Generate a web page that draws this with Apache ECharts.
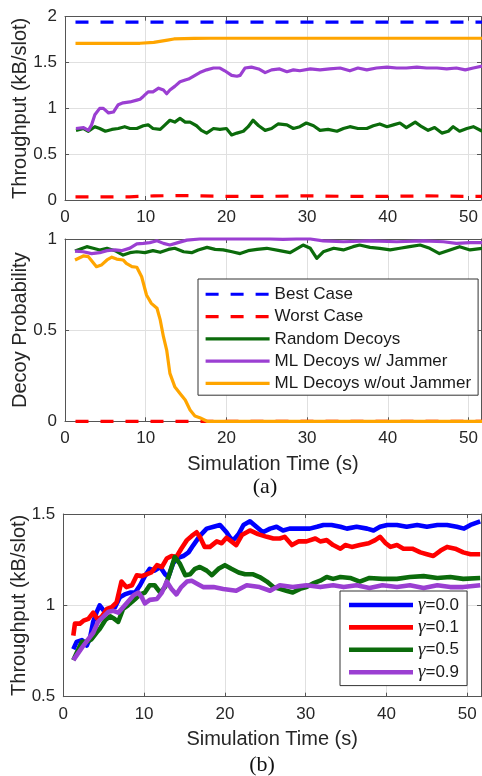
<!DOCTYPE html>
<html><head><meta charset="utf-8">
<script src="https://cdn.jsdelivr.net/npm/echarts@6/dist/echarts.min.js"></script>
<style>html,body{margin:0;padding:0;background:#fff}#c{width:482px;height:776px}</style>
</head><body><div id="c"></div>
<script>
// ---------- data (time s, value) ----------
const legendNamesA = ['Best Case','Worst Case','Random Decoys','ML Decoys w/ Jammer','ML Decoys w/out Jammer'];
const legendNamesB = ['γ=0.0','γ=0.1','γ=0.5','γ=0.9'];

// Panel (a) top: throughput
const bestThroughput = [[1.3,1.94],[51.7,1.94]];
const worstThroughput = [[1.3,0.035],[8,0.035],[11,0.045],[14,0.048],[17,0.045],[20,0.04],[25,0.04],[30,0.045],[35,0.04],[40,0.04],[45,0.045],[50,0.04],[51.7,0.04]];
const randomThroughput = [[1.36,0.76],[2.3,0.78],[2.9,0.75],[3.7,0.80],[4.3,0.78],[5.0,0.75],[5.8,0.77],[6.6,0.78],[7.4,0.80],[8.05,0.78],[8.9,0.78],[9.7,0.81],[10.3,0.82],[10.9,0.78],[11.8,0.77],[12.4,0.82],[13.0,0.87],[13.6,0.85],[14.25,0.89],[14.9,0.85],[15.5,0.85],[16.3,0.81],[16.9,0.76],[17.55,0.73],[18.4,0.78],[19.2,0.77],[20.0,0.78],[20.65,0.71],[21.3,0.73],[22.1,0.75],[22.7,0.80],[23.3,0.87],[24.0,0.81],[24.8,0.76],[25.6,0.78],[26.4,0.83],[27.5,0.82],[28.3,0.78],[29.1,0.80],[29.9,0.84],[30.8,0.81],[31.6,0.76],[32.6,0.77],[33.7,0.75],[34.5,0.78],[35.3,0.80],[36.3,0.78],[37.4,0.78],[38.2,0.81],[39.0,0.83],[39.9,0.80],[40.7,0.82],[41.5,0.84],[42.3,0.79],[43.4,0.85],[44.2,0.80],[45.0,0.76],[45.8,0.79],[46.7,0.73],[47.5,0.75],[48.1,0.80],[48.9,0.75],[49.8,0.78],[50.6,0.80],[51.7,0.75]];
const mlJamThroughput = [[1.36,0.78],[2.3,0.79],[2.9,0.76],[3.3,0.82],[3.7,0.93],[4.3,1.0],[4.75,1.0],[5.4,0.95],[6.0,0.96],[6.6,1.04],[7.2,1.06],[8.05,1.07],[8.9,1.09],[9.3,1.10],[9.7,1.13],[10.3,1.18],[10.9,1.18],[11.6,1.22],[12.2,1.20],[12.6,1.16],[13.0,1.20],[13.6,1.24],[14.25,1.29],[14.9,1.31],[15.3,1.32],[15.9,1.35],[16.7,1.39],[17.55,1.42],[18.4,1.44],[19.2,1.44],[19.8,1.41],[20.65,1.36],[21.3,1.35],[21.7,1.36],[22.3,1.44],[23.1,1.45],[24.0,1.43],[24.8,1.39],[25.6,1.42],[26.6,1.43],[27.5,1.40],[28.3,1.42],[29.1,1.41],[30.4,1.43],[31.6,1.42],[32.8,1.43],[34.1,1.44],[35.3,1.41],[36.3,1.44],[37.4,1.42],[38.6,1.44],[39.9,1.45],[41.1,1.44],[42.3,1.44],[43.6,1.45],[44.8,1.44],[46.1,1.44],[47.3,1.43],[48.5,1.44],[49.6,1.42],[50.6,1.44],[51.7,1.46]];
const mlNoJamThroughput = [[1.3,1.71],[5,1.71],[9.3,1.71],[11,1.72],[12.7,1.745],[13.5,1.757],[16,1.763],[18,1.765],[51.7,1.765]];

// Panel (a) middle: decoy probability
const worstDecoy = [[1.3,0],[51.7,0]];
const randomDecoy = [[1.24,0.934],[2.7,0.958],[3.5,0.949],[4.3,0.94],[5.2,0.949],[6.2,0.936],[7.2,0.912],[8.05,0.925],[8.9,0.93],[9.9,0.925],[10.9,0.936],[11.8,0.927],[12.8,0.943],[13.6,0.949],[14.7,0.93],[15.7,0.925],[16.5,0.94],[17.6,0.954],[18.6,0.943],[19.6,0.94],[20.7,0.93],[21.7,0.92],[22.7,0.936],[23.8,0.943],[25.0,0.949],[26.6,0.936],[27.9,0.925],[29.5,0.967],[30.4,0.949],[31.2,0.894],[32.0,0.93],[33.3,0.949],[34.5,0.94],[35.7,0.958],[36.5,0.967],[37.8,0.954],[39.0,0.949],[40.3,0.94],[41.5,0.949],[42.7,0.958],[44.0,0.967],[45.2,0.949],[46.4,0.92],[47.7,0.94],[48.9,0.958],[50.2,0.94],[51.7,0.949]];
const mlJamDecoy = [[1.24,0.934],[2.27,0.93],[3.3,0.92],[4.3,0.925],[5.2,0.936],[6.2,0.94],[7.0,0.936],[8.05,0.95],[8.9,0.973],[9.7,0.976],[10.5,0.98],[11.4,0.99],[12.2,0.976],[13.0,0.967],[14.0,0.98],[15.1,0.994],[16.7,1.0],[20,1.0],[25.4,1.0],[27.0,0.998],[28.7,1.0],[30.4,1.0],[32.0,0.99],[34.5,0.985],[37.8,0.99],[41.1,0.985],[44.4,0.99],[46.9,0.985],[48.5,0.976],[50.2,0.98],[51.7,0.98]];
const mlNoJamDecoy = [[1.24,0.885],[2.27,0.907],[2.9,0.903],[3.9,0.848],[4.5,0.857],[5.2,0.885],[5.8,0.9],[6.4,0.89],[7.2,0.885],[7.6,0.866],[8.3,0.848],[8.9,0.845],[9.5,0.793],[10.1,0.693],[10.7,0.647],[11.4,0.62],[11.8,0.556],[12.2,0.464],[12.6,0.391],[13.0,0.263],[13.6,0.19],[14.25,0.153],[14.9,0.117],[15.5,0.062],[16.1,0.029],[16.7,0.02],[17.6,0],[51.7,0]];

// Panel (b): throughput vs gamma
const gamma00 = [[1.24,0.76],[1.65,0.80],[2.3,0.81],[2.9,0.78],[3.3,0.82],[3.7,0.91],[4.1,0.96],[4.5,1.0],[5.2,0.96],[5.8,0.98],[6.4,0.99],[7.0,1.045],[7.6,1.06],[8.25,1.07],[8.9,1.07],[9.5,1.11],[10.1,1.16],[10.7,1.2],[11.3,1.19],[12.0,1.21],[12.6,1.17],[13.0,1.155],[13.6,1.23],[14.2,1.26],[14.85,1.27],[15.5,1.29],[16.1,1.33],[16.9,1.38],[17.75,1.42],[18.6,1.43],[19.4,1.44],[20.2,1.40],[20.8,1.36],[21.2,1.365],[21.7,1.39],[22.3,1.44],[23.1,1.46],[23.9,1.43],[24.7,1.40],[25.6,1.42],[26.4,1.43],[27.2,1.41],[28.0,1.42],[28.9,1.42],[29.7,1.42],[30.5,1.42],[31.4,1.43],[32.2,1.44],[33.2,1.44],[34.3,1.43],[35.1,1.42],[36.3,1.43],[37.6,1.42],[38.4,1.41],[39.2,1.43],[40.1,1.44],[41.3,1.44],[42.5,1.43],[43.8,1.44],[45.0,1.43],[46.3,1.44],[47.5,1.44],[48.7,1.43],[49.6,1.42],[50.4,1.44],[51.6,1.46]];
const gamma01 = [[1.24,0.834],[1.44,0.90],[2.06,0.90],[2.5,0.916],[3.1,0.926],[3.7,0.96],[4.2,0.926],[4.7,0.935],[5.4,0.98],[6.0,0.99],[6.6,1.017],[7.2,1.13],[7.8,1.10],[8.5,1.11],[9.1,1.165],[9.7,1.16],[10.3,1.17],[10.9,1.18],[11.6,1.22],[12.2,1.21],[12.8,1.256],[13.4,1.27],[14.0,1.265],[14.6,1.31],[15.3,1.357],[15.9,1.38],[16.5,1.40],[16.9,1.375],[17.5,1.32],[18.15,1.32],[19.0,1.35],[19.6,1.34],[20.2,1.37],[20.8,1.35],[21.4,1.33],[22.1,1.385],[23.1,1.41],[24.1,1.39],[25.2,1.375],[26.0,1.366],[26.8,1.366],[27.4,1.375],[28.3,1.33],[29.1,1.35],[30.1,1.35],[31.2,1.366],[31.8,1.35],[32.6,1.357],[33.4,1.33],[34.3,1.31],[34.9,1.33],[35.7,1.32],[36.7,1.33],[37.8,1.34],[38.6,1.357],[39.2,1.375],[39.9,1.34],[40.5,1.32],[41.3,1.33],[42.1,1.31],[43.2,1.31],[44.2,1.29],[45.0,1.28],[45.8,1.27],[46.7,1.30],[47.5,1.32],[48.5,1.31],[49.5,1.29],[50.4,1.28],[51.6,1.28]];
const gamma05 = [[1.24,0.70],[1.65,0.74],[2.3,0.80],[2.9,0.80],[3.5,0.815],[4.1,0.85],[4.5,0.87],[5.2,0.92],[5.8,0.94],[6.2,0.93],[6.8,0.91],[7.4,0.98],[8.0,1.0],[8.9,1.035],[9.5,1.06],[10.1,1.07],[10.7,1.11],[11.3,1.11],[12.0,1.07],[12.6,1.10],[13.2,1.18],[13.8,1.265],[14.4,1.23],[15.1,1.165],[15.7,1.17],[16.3,1.20],[16.9,1.21],[17.75,1.19],[18.4,1.165],[19.2,1.20],[20.0,1.22],[20.8,1.20],[21.7,1.18],[22.5,1.17],[23.5,1.17],[24.3,1.155],[25.2,1.13],[26.0,1.10],[26.8,1.09],[27.6,1.08],[28.4,1.07],[29.3,1.09],[30.1,1.10],[30.9,1.12],[31.8,1.135],[32.6,1.155],[33.4,1.145],[34.3,1.155],[35.5,1.15],[36.7,1.13],[37.9,1.15],[39.5,1.145],[41.3,1.145],[42.9,1.155],[44.6,1.16],[46.3,1.15],[47.9,1.155],[49.5,1.145],[51.6,1.15]];
const gamma09 = [[1.24,0.70],[1.86,0.74],[2.5,0.78],[3.1,0.815],[3.7,0.85],[4.3,0.91],[5.0,0.94],[5.6,0.965],[6.2,0.97],[6.8,0.96],[7.4,0.99],[8.0,1.02],[8.7,1.055],[9.3,1.07],[9.7,1.045],[10.1,1.01],[10.7,1.03],[11.6,1.035],[12.2,1.07],[12.8,1.13],[13.4,1.09],[14.0,1.06],[14.6,1.10],[15.3,1.13],[15.9,1.135],[16.5,1.12],[17.3,1.10],[18.6,1.10],[19.8,1.09],[21.4,1.08],[22.7,1.11],[24.3,1.10],[25.6,1.08],[26.8,1.11],[28.4,1.10],[30.1,1.11],[31.8,1.10],[33.4,1.11],[34.7,1.10],[36.3,1.11],[37.9,1.095],[39.5,1.11],[41.3,1.10],[42.9,1.11],[44.6,1.095],[46.3,1.11],[47.9,1.10],[49.5,1.10],[51.6,1.11]];

// ---------- styling ----------
const F = '"Liberation Sans", Arial, sans-serif';
const TXT = '#262626';
const AX = '#555';
const C = {blue:'#0000ff', red:'#ff0000', green:'#0b6b0b', purple:'#9b3fd2', orange:'#ffa500'};
const XMAX = [51.55, 51.55, 51.7];
const YR = [[0,2],[0,1],[0.5,1.5]];
const yNames = ['Throughput (kB/slot)','Decoy Probability','Throughput (kB/slot)'];
const yNameGap = [35, 35, 34];
const xNames = ['', 'Simulation Time (s)', 'Simulation Time (s)'];

const grids = [
  {left:65, top:16.7, width:416, height:183.3},
  {left:65, top:239, width:416, height:182.3},
  {left:63.3, top:514, width:417.7, height:182.7}
].map(g => Object.assign({outerBoundsMode:'none', containLabel:false, show:false}, g));

const xAxes = [], yAxes = [];
for (let i = 0; i < 3; i++) {
  xAxes.push({
    type:'value', gridIndex:i, min:0, max:XMAX[i], interval:10, position:'bottom',
    axisLine:{show:true, onZero:false, lineStyle:{color:AX, width:1}},
    axisTick:{show:true, inside:true, length:4, lineStyle:{color:AX}},
    axisLabel:{show:true, margin:9, fontSize:17, fontFamily:F, color:TXT, showMaxLabel:false,
      formatter: v => (Math.abs(v % 10) < 1e-9 ? String(v) : '')},
    splitLine:{show:true, lineStyle:{color:'#e0e0e0', width:1}},
    name:xNames[i], nameLocation:'middle', nameGap:33, nameMoveOverlap:false,
    nameTextStyle:{fontSize:20, fontFamily:F, color:TXT}
  });
  yAxes.push({
    type:'value', gridIndex:i, min:YR[i][0], max:YR[i][1], interval:0.5, position:'left',
    axisLine:{show:true, onZero:false, lineStyle:{color:AX, width:1}},
    axisTick:{show:true, inside:true, length:4, lineStyle:{color:AX}},
    axisLabel:{show:true, margin:8, fontSize:17, fontFamily:F, color:TXT},
    splitLine:{show:true, lineStyle:{color:'#e0e0e0', width:1}},
    name:yNames[i], nameLocation:'middle', nameGap:yNameGap[i], nameRotate:90, nameMoveOverlap:false,
    nameTextStyle:{fontSize:20, fontFamily:F, color:TXT}
  });
}
for (let i = 0; i < 3; i++) {
  xAxes.push({
    type:'value', gridIndex:i, min:0, max:XMAX[i], interval:10, position:'top',
    axisLine:{show:true, onZero:false, lineStyle:{color:AX, width:1}},
    axisTick:{show:true, inside:true, length:4, lineStyle:{color:AX}},
    axisLabel:{show:false}, splitLine:{show:false}
  });
  yAxes.push({
    type:'value', gridIndex:i, min:YR[i][0], max:YR[i][1], interval:0.5, position:'right',
    axisLine:{show:true, onZero:false, lineStyle:{color:AX, width:1}},
    axisTick:{show:true, inside:true, length:4, lineStyle:{color:AX}},
    axisLabel:{show:false}, splitLine:{show:false}
  });
}

function line(name, data, gi, color, width, dashed) {
  return {
    type:'line', name, data, xAxisIndex:gi, yAxisIndex:gi,
    symbol:'none', showSymbol:false, clip:false, animation:false,
    lineStyle:{color, width, type: dashed ? [13,12] : 'solid', join:'round', cap:'butt'},
    itemStyle:{color}, emphasis:{disabled:true}
  };
}

const W1 = 3.2, W2 = 4.6;
const series = [
  line(legendNamesA[0], bestThroughput, 0, C.blue, W1, true),
  line(legendNamesA[1], worstThroughput, 0, C.red, W1, true),
  line(legendNamesA[2], randomThroughput, 0, C.green, W1, false),
  line(legendNamesA[3], mlJamThroughput, 0, C.purple, W1, false),
  line(legendNamesA[4], mlNoJamThroughput, 0, C.orange, W1, false),
  line(legendNamesA[1], worstDecoy, 1, C.red, W1, true),
  line(legendNamesA[2], randomDecoy, 1, C.green, W1, false),
  line(legendNamesA[3], mlJamDecoy, 1, C.purple, W1, false),
  line(legendNamesA[4], mlNoJamDecoy, 1, C.orange, W1, false),
  line(legendNamesB[0], gamma00, 2, C.blue, W2, false),
  line(legendNamesB[1], gamma01, 2, C.red, W2, false),
  line(legendNamesB[2], gamma05, 2, C.green, W2, false),
  line(legendNamesB[3], gamma09, 2, C.purple, W2, false)
];

const chart = echarts.init(document.getElementById('c'), null, {renderer:'canvas'});
chart.setOption({
  animation:false,
  backgroundColor:'#fff',
  grid: grids,
  xAxis: xAxes,
  yAxis: yAxes,
  legend: [
    {
      data: legendNamesA, orient:'vertical', left:198, top:279,
      itemWidth:64, itemHeight:14, itemGap:0, padding:[4.1,7,0.6,6],
      backgroundColor:'#fff', borderColor:'#333', borderWidth:1, borderRadius:0,
      selectedMode:false, lineStyle:{width:W1}, itemStyle:{opacity:0},
      textStyle:{fontSize:17, lineHeight:22.3, fontFamily:F, color:'#1a1a1a'}
    },
    {
      data: legendNamesB, orient:'vertical', left:340, top:591,
      itemWidth:64, itemHeight:14, itemGap:0, padding:[2.8,8,2.2,6.7],
      backgroundColor:'#fff', borderColor:'#333', borderWidth:1, borderRadius:0,
      selectedMode:false, lineStyle:{width:W2}, itemStyle:{opacity:0},
      formatter: n => '{g|γ}' + n.slice(1),
      textStyle:{fontSize:17, lineHeight:22.4, fontFamily:F, color:'#1a1a1a',
        rich:{g:{fontSize:19, lineHeight:22.4, fontFamily:'"Liberation Serif", serif', fontStyle:'italic', color:'#1a1a1a'}}}
    }
  ],
  graphic: [
    {type:'text', x:265, y:487, style:{text:'(a)', fontSize:22, fontFamily:'"Liberation Serif", serif', fill:'#111', align:'center', verticalAlign:'middle', textAlign:'center', textVerticalAlign:'middle'}},
    {type:'text', x:262, y:765, style:{text:'(b)', fontSize:22, fontFamily:'"Liberation Serif", serif', fill:'#111', align:'center', verticalAlign:'middle', textAlign:'center', textVerticalAlign:'middle'}}
  ],
  series
});
</script>
</body></html>
